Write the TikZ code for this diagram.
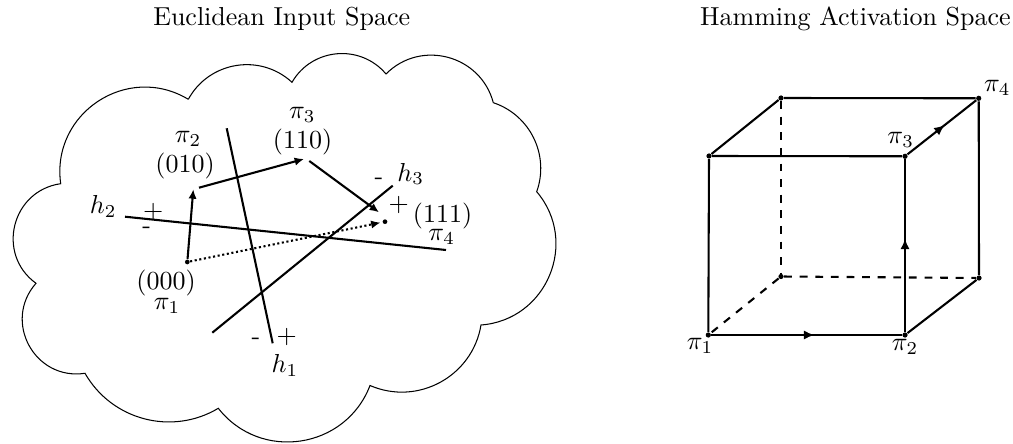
\documentclass[tikz,border=0pt]{standalone}
\usetikzlibrary{arrows.meta,decorations.markings}
\begin{document}
\begin{tikzpicture}[x=0.3846pt,y=-0.3846pt,
  cloudline/.style={line width=0.4pt},
  hyper/.style={line width=0.8pt},
  walk/.style={line width=0.8pt,-{Latex[length=3.6pt,width=3.2pt]}},
  lbl/.style={inner sep=0pt},
  vdot/.style={circle,fill,inner sep=0pt,minimum size=2pt},
  cubeedge/.style={line width=0.8pt},
  hiddenedge/.style={line width=0.8pt,dashed},
  midarrow/.style={postaction={decorate},decoration={markings,mark=at position 0.54 with {\arrow{Latex[length=4pt,width=3.6pt]}}}}]
\useasboundingbox (0,0) rectangle (1013,444);
% titles
\node[lbl,anchor=base] (t1) at (281.7,25.7) {Euclidean Input Space};
\node[lbl,anchor=base] (t2) at (855.4,25.7) {Hamming Activation Space};
% cloud
\coordinate (k1) at (188.3,99.3);
\coordinate (k2) at (292,82.3);
\coordinate (k3) at (386,74);
\coordinate (k4) at (493.3,102.7);
\coordinate (k5) at (536.7,191.7);
\coordinate (k6) at (481,325);
\coordinate (k7) at (370,385.5);
\coordinate (k8) at (218.3,408.3);
\coordinate (k9) at (85,373.3);
\coordinate (k10) at (36,283.3);
\coordinate (k11) at (60.7,183.7);
\draw[cloudline] (k1) to[bend left=52,looseness=1.054] (k2)
  to[bend left=55,looseness=1.082] (k3)
  to[bend left=60.2,looseness=1.137] (k4)
  to[bend left=45.6,looseness=1.002] (k5)
  to[bend left=63,looseness=1.171] (k6)
  to[bend left=52,looseness=1.054] (k7)
  to[bend left=60.5,looseness=1.141] (k8)
  to[bend left=45.6,looseness=1.002] (k9)
  to[bend left=70,looseness=1.269] (k10)
  to[bend left=68,looseness=1.239] (k11)
  to[bend left=64.5,looseness=1.19] (k1);
% hyperplanes
\coordinate (h1a) at (226.7,128.3);
\coordinate (h1b) at (272.7,343.3);
\coordinate (h2a) at (125,216.7);
\coordinate (h2b) at (446,250);
\coordinate (h3a) at (212.3,332.7);
\coordinate (h3b) at (392.7,185.7);
\draw[hyper] (h1a) -- (h1b);
\draw[hyper] (h2a) -- (h2b);
\draw[hyper] (h3a) -- (h3b);
% points and walk
\node[vdot,minimum size=1.8pt] (p1) at (187.3,262) {};
\node[vdot,minimum size=1.8pt] (p4) at (385,221.7) {};
\coordinate (p2in) at (193.3,189.3);
\coordinate (p2out) at (199,187.7);
\coordinate (p3in) at (304,159);
\coordinate (p3out) at (309.3,161);
\coordinate (p4in) at (379,212.3);
\coordinate (p4dot) at (380.5,222.6);
\draw[walk] (p1) -- (p2in);
\draw[walk] (p2out) -- (p3in);
\draw[walk] (p3out) -- (p4in);
\draw[walk,densely dotted] (p1) -- (p4dot);
% labels left
\node[lbl] (l2pi) at (188,139.3) {$\pi_2$};
\node[lbl] (l2b) at (185,165.7) {(010)};
\node[lbl] (l3pi) at (302.3,115) {$\pi_3$};
\node[lbl] (l3b) at (302.5,141.7) {(110)};
\node[lbl] (l1b) at (166,283.3) {(000)};
\node[lbl] (l1pi) at (167,305.7) {$\pi_1$};
\node[lbl] (l4b) at (442.5,215.7) {(111)};
\node[lbl] (l4pi) at (441.7,236.7) {$\pi_4$};
\node[lbl] (h1l) at (285,365.7) {$h_1$};
\node[lbl] (h2l) at (103.3,206.7) {$h_2$};
\node[lbl] (h3l) at (410.7,174) {$h_3$};
\node[lbl] (s1) at (398.7,205.3) {+};
\node[lbl] (s2) at (379,181.7) {-};
\node[lbl] (s3) at (286.7,336.7) {+};
\node[lbl] (s4) at (256,341.7) {-};
\node[lbl] (s5) at (153.3,211.7) {+};
\node[lbl] (s6) at (146.7,230) {-};
% cube
\node[vdot] (c1) at (708.3,335) {};
\node[vdot] (c2) at (905,335) {};
\node[vdot] (c3) at (905,156.3) {};
\node[vdot] (c4) at (978.7,98.3) {};
\node[vdot] (ftl) at (709,156) {};
\node[vdot] (btl) at (781,98) {};
\node[vdot] (bbl) at (781,276.5) {};
\node[vdot] (bbr) at (979,278) {};
\draw[cubeedge] (c1) -- (ftl);
\draw[cubeedge] (ftl) -- (c3);
\draw[cubeedge] (ftl) -- (btl);
\draw[cubeedge] (btl) -- (c4);
\draw[cubeedge] (c4) -- (bbr);
\draw[cubeedge] (bbr) -- (c2);
\draw[hiddenedge] (btl) -- (bbl);
\draw[hiddenedge] (bbl) -- (bbr);
\draw[hiddenedge] (bbl) -- (c1);
\draw[cubeedge,midarrow] (c1) -- (c2);
\draw[cubeedge,midarrow] (c2) -- (c3);
\draw[cubeedge,midarrow] (c3) -- (c4);
\node[lbl] (q1) at (700,345.7) {$\pi_1$};
\node[lbl] (q2) at (905,346.7) {$\pi_2$};
\node[lbl] (q3) at (900.7,140) {$\pi_3$};
\node[lbl] (q4) at (997.3,88.3) {$\pi_4$};
\end{tikzpicture}
\end{document}
